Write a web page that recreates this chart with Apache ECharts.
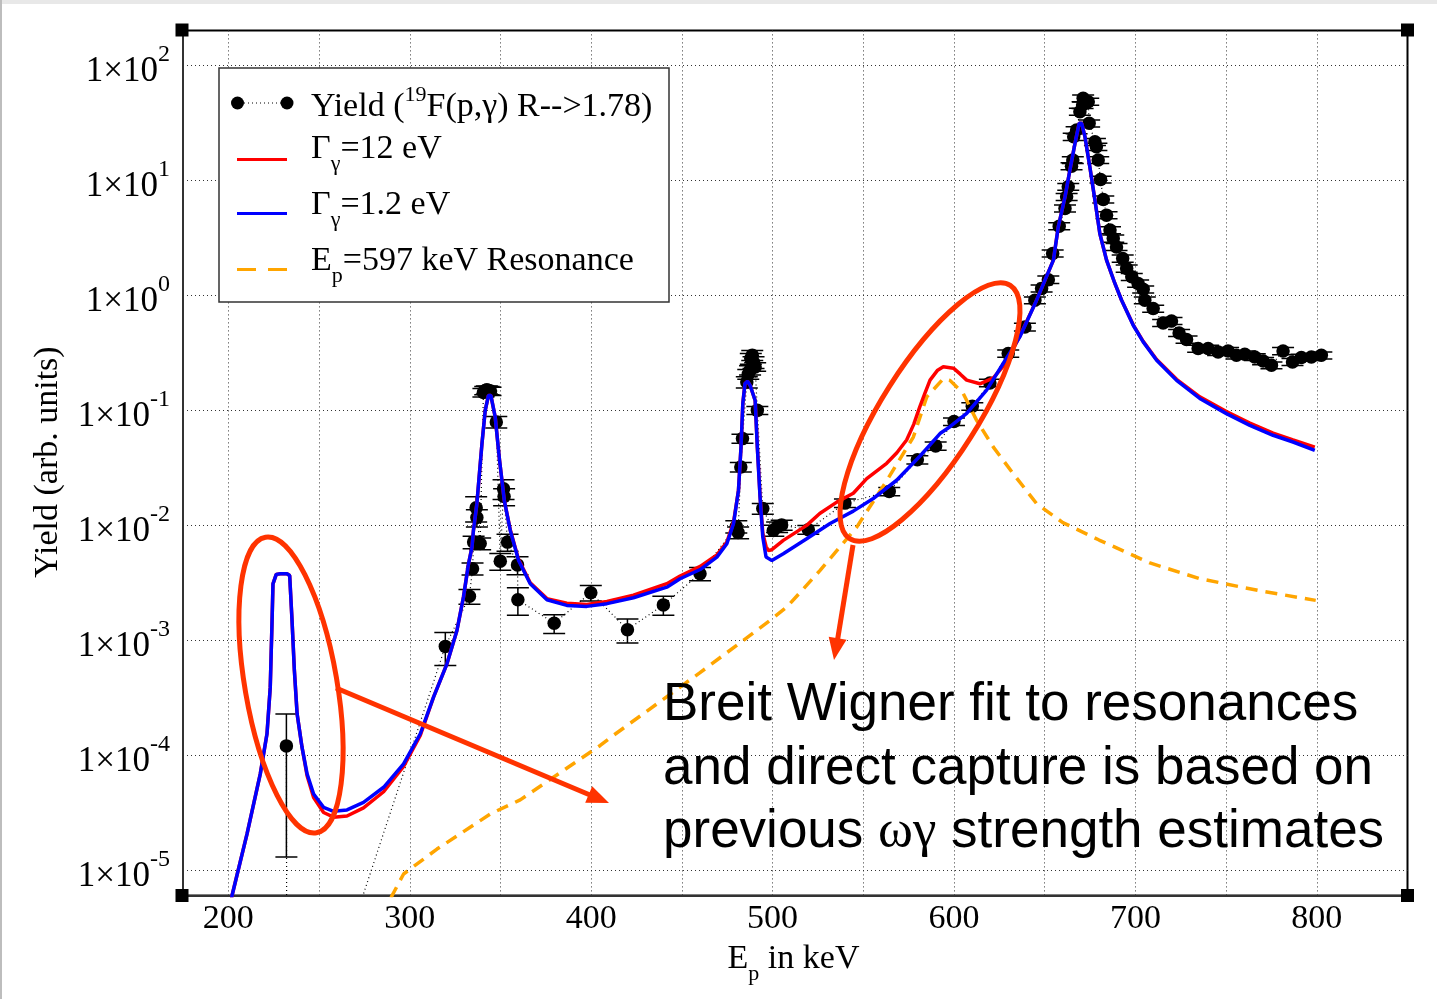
<!DOCTYPE html>
<html>
<head>
<meta charset="utf-8">
<script src="https://cdn.jsdelivr.net/npm/echarts@6/dist/echarts.min.js"></script>
<style>
  html, body { margin: 0; padding: 0; background: #fff; }
  #chart { position: absolute; left: 0; top: 0; width: 1437px; height: 999px; }
  .edge { position: absolute; }
</style>
</head>
<body>
<div id="chart"></div>
<div class="edge" style="left:0;top:0;width:1437px;height:4px;background:#e8e8e8"></div>
<div class="edge" style="left:0;top:0;width:2px;height:999px;background:#bdbdbd"></div>
<script>
// ---- measured yield of 19F(p,gamma), R --> 1.78 ----
const dataEnergy = [232.0, 232.3, 319.6, 332.9, 334.6, 335.2, 336.6, 337.0, 338.8, 340.6, 341.6, 342.5, 343.5, 344.5,
  347.7, 349.9, 351.7, 352.0, 353.9, 359.4, 359.6, 379.6, 399.8, 420.0, 439.8, 460.0,
  480.0, 481.0, 482.5, 483.4, 485.8, 486.6, 487.6, 488.0, 488.8, 489.5, 490.4, 491.6, 494.6,
  500.4, 502.5, 505.0, 519.7, 539.9, 564.3, 579.8, 589.9, 600.0, 610.1, 619.8, 629.9,
  639.1, 644.6, 648.3, 652.0, 654.4, 658.0, 661.2, 662.1, 663.0, 664.8, 665.5, 666.0, 667.6,
  669.4, 670.9, 671.2, 674.0, 674.5, 677.7, 678.5, 679.5, 680.8, 682.3, 684.1, 686.0, 687.8,
  689.6, 693.0, 695.2, 698.0, 701.5, 704.3, 705.2, 709.8, 715.3, 719.9, 724.1, 728.2, 734.6,
  740.1, 745.6, 751.1, 755.7, 760.3, 765.8, 770.4, 775.0, 781.4, 786.6, 791.5, 797.0, 802.5];
const dataYield = [1.2e-4, 6e-8, 8.8e-4, 2.4e-3, 4.17e-3, 7.1e-3, 1.41e-2, 1.16e-2, 6.9e-3, 0.142, 0.148, 0.150, 0.148, 0.146,
  0.0787, 4.85e-3, 0.0207, 0.0177, 7.1e-3, 4.5e-3, 2.24e-3, 1.4e-3, 2.58e-3, 1.23e-3, 2.02e-3, 3.77e-3,
  9.7e-3, 8.6e-3, 0.0319, 0.0564, 0.175, 0.205, 0.222, 0.28, 0.30, 0.26, 0.237, 0.0993, 0.0139,
  8.97e-3, 9.6e-3, 0.0100, 9.1e-3, 0.0155, 0.0196, 0.037, 0.0486, 0.0793, 0.1077, 0.172, 0.31,
  0.527, 0.90, 1.14, 1.36, 2.30, 3.97, 5.66, 7.14, 8.74, 13.2, 14.9, 23.8, 27.2,
  39.3, 44.9, 51.3, 48.0, 31.1, 21.5, 19.5, 14.9, 10.1, 6.78, 4.95, 3.67, 3.10,
  2.62, 2.08, 1.70, 1.44, 1.26, 1.12, 0.90, 0.762, 0.571, 0.595, 0.468, 0.41, 0.342,
  0.342, 0.32, 0.326, 0.299, 0.305, 0.289, 0.267, 0.245, 0.326, 0.262, 0.286, 0.289, 0.299];
const dataError = [1.07e-4, 0, 2.8e-4, 3.5e-4, 5e-4, 9e-4, 3.5e-3, 2e-3, 8e-4, 0.012, 0.012, 0.012, 0.012, 0.012,
  0.009, 8e-4, 4e-3, 3e-3, 1.2e-3, 8e-4, 6e-4, 2.6e-4, 4e-4, 2.9e-4, 3.8e-4, 5e-4,
  1.2e-3, 1e-3, 3e-3, 5e-3, 0.02, 0.02, 0.02, 0.03, 0.03, 0.03, 0.02, 0.008, 1.5e-3,
  1e-3, 1e-3, 1e-3, 8e-4, 1.3e-3, 1.6e-3, 3e-3, 4e-3, 6e-3, 8e-3, 0.013, 0.022,
  0.04, 0.06, 0.08, 0.1, 0.16, 0.28, 0.4, 0.5, 0.6, 0.9, 1.0, 1.7, 1.9,
  2.8, 3.1, 3.6, 3.4, 2.2, 1.5, 1.4, 1.0, 0.7, 0.47, 0.35, 0.26, 0.22,
  0.18, 0.15, 0.12, 0.1, 0.09, 0.08, 0.06, 0.053, 0.04, 0.042, 0.033, 0.029, 0.024,
  0.024, 0.022, 0.023, 0.021, 0.021, 0.02, 0.019, 0.017, 0.023, 0.018, 0.02, 0.02, 0.021];

// ---- Breit-Wigner + direct capture fit, Gamma_gamma = 12 eV ----
const fit12Energy = [200.5, 202.0, 210.3, 217.6, 221.3, 223.1, 224.1, 224.6, 226.4, 228.7, 232.3, 233.8, 235.1, 236.4,
  237.9, 240.6, 243.4, 247.0, 252.5, 258.0, 265.4, 274.5, 285.6, 296.6, 305.8, 313.1, 320.5, 326.0,
  329.6, 332.4, 334.3, 335.1, 337.0, 339.8, 341.6, 343.4, 344.7, 347.1, 349.5, 352.1, 355.4, 360.0,
  366.4, 375.6, 386.6, 397.6, 408.7, 423.3, 441.7, 449.0, 460.1, 469.3, 474.8, 478.5, 481.2, 482.6,
  483.6, 484.8, 486.2, 487.6, 490.4, 491.6, 493.1, 494.6, 496.4, 497.7, 499.6, 505.9, 518.8, 526.0,
  535.4, 544.5, 551.9, 562.9, 568.5, 573.9, 577.8, 581.2, 584.0, 586.8, 591.0, 594.1, 599.7, 603.5,
  607.0, 614.3, 621.7, 629.0, 636.3,
  645.6, 654.8, 657.5, 661.2, 663.9, 666.7, 669.0, 670.4, 672.2, 674.9, 677.7, 680.4, 684.1, 688.7,
  692.4, 698.8, 704.3, 711.7, 722.7, 735.5, 750.2, 763.1, 775.9, 786.9, 798.9];
const fit12Yield = [3.55e-6, 5.97e-6, 2.06e-5, 6.85e-5, 1.53e-4, 3.89e-4, 1.48e-3, 3.08e-3, 3.72e-3, 3.77e-3, 3.77e-3, 3.64e-3, 1.48e-3, 5.43e-4,
  2.28e-4, 1.17e-4, 6.6e-5, 4.27e-5, 3.16e-5, 2.88e-5, 2.95e-5, 3.47e-5, 4.79e-5, 7.94e-5, 1.48e-4, 3.18e-4, 6.21e-4, 1.21e-3,
  2.36e-3, 4.6e-3, 6.43e-3, 8.97e-3, 0.0153, 0.051, 0.0993, 0.134, 0.134, 0.0869, 0.0365, 0.0164, 9.1e-3, 5.0e-3,
  3.15e-3, 2.29e-3, 2.09e-3, 2.04e-3, 2.16e-3, 2.45e-3, 3.09e-3, 3.6e-3, 4.37e-3, 5.5e-3, 7.1e-3, 0.0106, 0.020, 0.0476,
  0.114, 0.170, 0.178, 0.164, 0.121, 0.0476, 0.0178, 8.5e-3, 6.5e-3, 6.0e-3, 6.1e-3, 7.35e-3, 9.93e-3, 0.0126,
  0.0158, 0.0189, 0.0253, 0.0344, 0.0425, 0.0548, 0.075, 0.107, 0.14, 0.182, 0.222, 0.238, 0.231, 0.205,
  0.182, 0.169, 0.19, 0.26, 0.44,
  0.906, 2.01, 3.92, 7.14, 12.2, 20.8, 31.1, 31.1, 23.8, 13.0, 6.68, 3.43, 2.01, 1.26,
  0.90, 0.55, 0.395, 0.275, 0.185, 0.13, 0.097, 0.077, 0.063, 0.055, 0.0476];

// ---- same fit, Gamma_gamma = 1.2 eV ----
const fit1p2Energy = [200.5, 202.0, 210.3, 217.6, 221.3, 223.1, 224.1, 224.6, 226.4, 228.7, 232.3, 233.8, 235.1, 236.4,
  237.9, 240.6, 243.4, 247.0, 252.5, 258.0, 265.4, 274.5, 285.6, 296.6, 305.8, 313.1, 320.5, 326.0,
  329.6, 332.4, 334.3, 335.1, 337.0, 339.8, 341.6, 343.4, 344.7, 347.1, 349.5, 352.1, 355.4, 360.0,
  366.4, 375.6, 386.6, 397.6, 408.7, 423.3, 441.7, 449.0, 460.1, 469.3, 474.8, 478.5, 481.2, 482.6,
  483.6, 484.8, 486.2, 487.6, 490.4, 491.6, 493.1, 494.6, 496.4, 499.6, 505.9, 518.8, 531.7, 544.5,
  555.5, 568.4, 581.3, 592.3, 597.8, 607.0, 618.0, 627.2, 636.4, 645.6, 654.8, 657.5, 661.2, 663.9,
  666.7, 669.0, 670.4, 672.2, 674.9, 677.7, 680.4, 684.1, 688.7, 692.4, 698.8, 704.3, 711.7, 722.7,
  735.5, 750.2, 763.1, 775.9, 786.9, 798.9];
const fit1p2Yield = [3.55e-6, 5.97e-6, 2.06e-5, 6.85e-5, 1.53e-4, 3.89e-4, 1.48e-3, 3.08e-3, 3.72e-3, 3.77e-3, 3.77e-3, 3.64e-3, 1.48e-3, 5.43e-4,
  2.28e-4, 1.17e-4, 6.85e-5, 4.58e-5, 3.51e-5, 3.24e-5, 3.33e-5, 3.87e-5, 5.24e-5, 8.38e-5, 1.53e-4, 3.18e-4, 6.21e-4, 1.21e-3,
  2.36e-3, 4.6e-3, 6.43e-3, 8.97e-3, 0.0153, 0.051, 0.0993, 0.134, 0.134, 0.0869, 0.0365, 0.0164, 8.97e-3, 4.92e-3,
  3.08e-3, 2.24e-3, 2.0e-3, 1.96e-3, 2.07e-3, 2.33e-3, 2.88e-3, 3.41e-3, 4.1e-3, 5.26e-3, 6.87e-3, 0.0103, 0.020, 0.0476,
  0.114, 0.170, 0.178, 0.164, 0.121, 0.0476, 0.0175, 7.85e-3, 5.26e-3, 4.92e-3, 5.62e-3, 7.6e-3, 0.0103, 0.0132,
  0.0170, 0.0245, 0.0398, 0.0624, 0.0716, 0.0935, 0.149, 0.255, 0.435, 0.906, 2.01, 3.92, 7.14, 12.2,
  20.8, 31.1, 31.1, 23.8, 13.0, 6.68, 3.43, 2.01, 1.26, 0.90, 0.546, 0.391, 0.271, 0.181,
  0.126, 0.093, 0.0736, 0.0603, 0.0527, 0.0446];

// ---- isolated Ep = 597 keV resonance ----
const resEnergy = [285.0, 290.2, 296.6, 315.0, 344.4, 360.9, 405.0, 410.4, 460.0, 498.6, 507.8, 526.2, 546.4, 563.0,
  577.6, 585.0, 594.1, 597.8, 605.1, 612.5, 621.7, 632.7, 645.6, 660.0, 680.0, 708.0, 735.0, 768.0, 799.4];
const resYield = [3.98e-6, 5.97e-6, 9.23e-6, 1.52e-5, 3.07e-5, 4.07e-5, 1.21e-4, 1.41e-4, 5.2e-4, 1.48e-3, 1.93e-3, 4.03e-3, 9.59e-3, 0.0244,
  0.0582, 0.13, 0.187, 0.181, 0.139, 0.0813, 0.0476, 0.0279, 0.0153, 0.0105, 7.4e-3, 4.68e-3, 3.43e-3, 2.69e-3, 2.21e-3];

// ---- tick labels ----
const xTickLabels = [200, 300, 400, 500, 600, 700, 800];
const yTickExponents = [-5, -4, -3, -2, -1, 0, 1, 2];

const SERIF = "'Liberation Serif','Times New Roman',Times,serif";
const SANS = "'Liberation Sans',Arial,Helvetica,sans-serif";
const MARK = '#ff3300';

function zip(xs, ys) {
  const n = Math.min(xs.length, ys.length);
  const out = [];
  for (let i = 0; i < n; i++) out.push([xs[i], ys[i]]);
  return out;
}

const pointData = zip(dataEnergy, dataYield);
const errorData = [];
for (let i = 0; i < dataEnergy.length; i++) {
  if (dataError[i] > 0) errorData.push([dataEnergy[i], dataYield[i] - dataError[i], dataYield[i] + dataError[i]]);
}

const chart = echarts.init(document.getElementById('chart'), null, { renderer: 'canvas' });

const gridLine = { show: true, showMinLine: false, showMaxLine: false, lineStyle: { color: '#333', width: 1, type: [1, 3] } };

// legend and annotations in pixel space
const legendRows = [107, 149.5, 205.5, 261];
const subRich = {
  m: { fontFamily: SERIF, fontSize: 34, fill: '#000' },
  sub: { fontFamily: SERIF, fontSize: 22, fill: '#000', padding: [30, 0, 0, 0] },
  sup: { fontFamily: SERIF, fontSize: 22, fill: '#000', padding: [0, 0, 23, 0] }
};

const graphics = [
  { type: 'rect', z: 100, shape: { x: 219, y: 68, width: 450, height: 234 }, style: { fill: '#fff', stroke: '#333', lineWidth: 1.5 } },
  { type: 'line', z: 101, shape: { x1: 244, y1: 103, x2: 281, y2: 103 }, style: { stroke: '#000', lineWidth: 1, lineDash: [1, 3] } },
  { type: 'circle', z: 101, shape: { cx: 237.5, cy: 103, r: 6.5 }, style: { fill: '#000' } },
  { type: 'circle', z: 101, shape: { cx: 287, cy: 103, r: 6.5 }, style: { fill: '#000' } },
  { type: 'text', z: 101, x: 311, y: legendRows[0], style: { text: '{m|Yield (}{sup|19}{m|F(p,γ) R-->1.78)}', rich: subRich, align: 'left', verticalAlign: 'middle' } },
  { type: 'line', z: 101, shape: { x1: 237, y1: 159.5, x2: 287, y2: 159.5 }, style: { stroke: '#ff0000', lineWidth: 3 } },
  { type: 'text', z: 101, x: 311, y: legendRows[1], style: { text: '{m|Γ}{sub|γ}{m|=12 eV}', rich: subRich, align: 'left', verticalAlign: 'middle' } },
  { type: 'line', z: 101, shape: { x1: 237, y1: 213.5, x2: 287, y2: 213.5 }, style: { stroke: '#0000ff', lineWidth: 3 } },
  { type: 'text', z: 101, x: 311, y: legendRows[2], style: { text: '{m|Γ}{sub|γ}{m|=1.2 eV}', rich: subRich, align: 'left', verticalAlign: 'middle' } },
  { type: 'line', z: 101, shape: { x1: 237, y1: 269.5, x2: 287, y2: 269.5 }, style: { stroke: '#ffa500', lineWidth: 3, lineDash: [19, 12] } },
  { type: 'text', z: 101, x: 311, y: legendRows[3], style: { text: '{m|E}{sub|p}{m|=597 keV Resonance}', rich: subRich, align: 'left', verticalAlign: 'middle' } },

  // axis titles
  { type: 'text', z: 101, x: 793.5, y: 959, style: { text: '{m|E}{sub|p}{m| in keV}', rich: subRich, align: 'center', verticalAlign: 'middle' } },
  { type: 'text', z: 101, x: 48, y: 462, rotation: Math.PI / 2, style: { text: 'Yield (arb. units)', fontFamily: SERIF, fontSize: 34, fill: '#000', align: 'center', verticalAlign: 'middle' } },

  // frame corner markers
  { type: 'rect', z: 101, shape: { x: 175.5, y: 23.5, width: 13, height: 13 }, style: { fill: '#000' } },
  { type: 'rect', z: 101, shape: { x: 1401, y: 23.5, width: 13, height: 13 }, style: { fill: '#000' } },
  { type: 'rect', z: 101, shape: { x: 175.5, y: 889, width: 13, height: 13 }, style: { fill: '#000' } },
  { type: 'rect', z: 101, shape: { x: 1401, y: 889, width: 13, height: 13 }, style: { fill: '#000' } },

  // highlighted regions
  { type: 'ellipse', z: 110, x: 291, y: 685, rotation: 0.171, shape: { cx: 0, cy: 0, rx: 46, ry: 150 }, style: { fill: 'none', stroke: MARK, lineWidth: 5 } },
  { type: 'ellipse', z: 110, x: 930, y: 412, rotation: -0.565, shape: { cx: 0, cy: 0, rx: 48, ry: 150 }, style: { fill: 'none', stroke: MARK, lineWidth: 5 } },
  { type: 'line', z: 110, shape: { x1: 336, y1: 688, x2: 590, y2: 795 }, style: { stroke: MARK, lineWidth: 5 } },
  { type: 'polygon', z: 110, shape: { points: [[609, 803], [585.2, 802.8], [592.2, 786.2]] }, style: { fill: MARK } },
  { type: 'line', z: 110, shape: { x1: 853, y1: 545, x2: 837.5, y2: 640 }, style: { stroke: MARK, lineWidth: 5 } },
  { type: 'polygon', z: 110, shape: { points: [[834, 660], [828.7, 636.8], [846.5, 639.8]] }, style: { fill: MARK } },

  // note
  { type: 'text', z: 110, x: 663, y: 705, style: { text: 'Breit Wigner fit to resonances', fontFamily: SANS, fontSize: 53, fill: '#000', align: 'left', verticalAlign: 'middle' } },
  { type: 'text', z: 110, x: 663, y: 769, style: { text: 'and direct capture is based on', fontFamily: SANS, fontSize: 53, fill: '#000', align: 'left', verticalAlign: 'middle' } },
  { type: 'text', z: 110, x: 663, y: 832, style: {
      text: '{a|previous }{g|ωγ}{a| strength estimates}',
      rich: { a: { fontFamily: SANS, fontSize: 53, fill: '#000' }, g: { fontFamily: SERIF, fontSize: 53, fill: '#000' } },
      align: 'left', verticalAlign: 'middle' } }
];

const option = {
  animation: false,
  backgroundColor: '#fff',
  grid: { left: 183, top: 30.4, width: 1224.5, height: 865.1, show: true, borderColor: '#000', borderWidth: 2, backgroundColor: 'transparent' },
  xAxis: {
    type: 'value', min: 175, max: 850, splitNumber: 13,
    axisLine: { show: true, onZero: false, lineStyle: { color: '#333', width: 2 } },
    axisTick: { show: false },
    axisLabel: {
      margin: 7, fontFamily: SERIF, fontSize: 34, color: '#000',
      formatter: v => (xTickLabels.indexOf(Math.round(v)) >= 0 && Math.abs(v - Math.round(v)) < 1e-6) ? String(Math.round(v)) : ''
    },
    splitLine: gridLine
  },
  yAxis: {
    type: 'log', logBase: 10, min: 6e-6, max: 200,
    axisLine: { show: true, lineStyle: { color: '#333', width: 2 } },
    axisTick: { show: false },
    axisLabel: {
      margin: 13, color: '#000',
      formatter: v => {
        const lg = Math.log10(v);
        const e = Math.round(lg);
        if (Math.abs(lg - e) > 1e-6 || yTickExponents.indexOf(e) < 0) return '';
        return '{b|1×10}{s|' + e + '}';
      },
      rich: {
        b: { fontFamily: SERIF, fontSize: 35, color: '#000', padding: [13, 0, 0, 0] },
        s: { fontFamily: SERIF, fontSize: 24, color: '#000', padding: [0, 0, 20, 0] }
      }
    },
    splitLine: gridLine
  },
  series: [
    {
      name: 'error', type: 'custom', clip: true, z: 2,
      data: errorData,
      renderItem: (params, api) => {
        const x = api.value(0);
        const lo = api.coord([x, api.value(1)]);
        const hi = api.coord([x, api.value(2)]);
        const w = 11;
        const st = { stroke: '#000', lineWidth: 1.5 };
        return {
          type: 'group',
          children: [
            { type: 'line', shape: { x1: lo[0], y1: lo[1], x2: hi[0], y2: hi[1] }, style: st },
            { type: 'line', shape: { x1: lo[0] - w, y1: lo[1], x2: lo[0] + w, y2: lo[1] }, style: st },
            { type: 'line', shape: { x1: hi[0] - w, y1: hi[1], x2: hi[0] + w, y2: hi[1] }, style: st }
          ]
        };
      }
    },
    {
      name: 'Yield', type: 'line', data: pointData, z: 3,
      symbol: 'circle', symbolSize: 13.5, showSymbol: true,
      itemStyle: { color: '#000' },
      lineStyle: { color: '#000', width: 1.2, type: [1, 3] }
    },
    {
      name: 'Ep=597 keV Resonance', type: 'line', data: zip(resEnergy, resYield), z: 4,
      showSymbol: false, smooth: false,
      lineStyle: { color: '#ffa500', width: 3.5, type: [12, 8] }
    },
    {
      name: 'Gamma 12 eV', type: 'line', data: zip(fit12Energy, fit12Yield), z: 5,
      showSymbol: false,
      lineStyle: { color: '#ff0000', width: 3.5 }
    },
    {
      name: 'Gamma 1.2 eV', type: 'line', data: zip(fit1p2Energy, fit1p2Yield), z: 6,
      showSymbol: false,
      lineStyle: { color: '#0000ff', width: 3.5 }
    }
  ],
  graphic: graphics
};

chart.setOption(option);
</script>
</body>
</html>
